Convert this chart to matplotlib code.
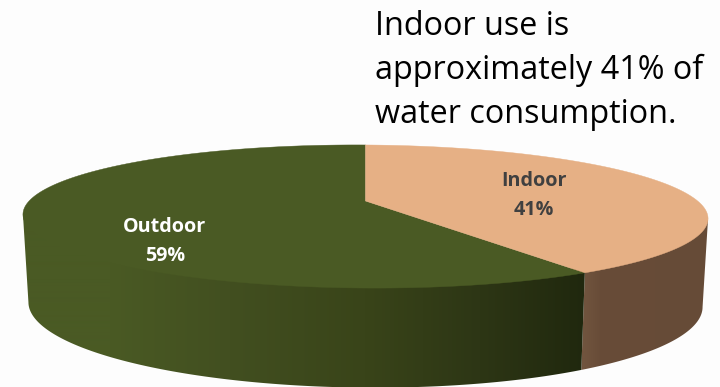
import numpy as np
import matplotlib
matplotlib.use('Agg')
import matplotlib.pyplot as plt
from matplotlib.colors import to_rgb
from matplotlib.patches import Polygon

# chart data
labels = ['Indoor', 'Outdoor']
shares = [41, 59]
title_lines = ['Indoor use is', 'approximately 41% of', 'water consumption.']

top_colors = ['#e6b085', '#4a5a24']

# projective map of the unit pie circle, fitted to the picture (pixels)
cx, cy = 365.5, 201.0
r = 0.2168
s = 334.4
p = 24.6
tilt = 0.006


def top_xy(theta):
    # theta in degrees, clockwise from 12 o'clock
    u = np.sin(np.radians(theta))
    v = np.cos(np.radians(theta))
    w = 1 + r * v
    x = s * u / w
    y = (cy - p * v) / w
    return cx + x, y + x * tilt


def bottom_xy(theta):
    x, y = top_xy(theta)
    return cx + (x - cx) * 0.984, 304 + (y - 216) * 83 / 71.5


def gradient(stops_x, stops_c):
    # one row image, colour runs with x
    xs = np.arange(0, 720)
    rgb = np.array([to_rgb(c) for c in stops_c])
    return np.dstack([np.interp(xs, stops_x, rgb[:, i]) for i in range(3)])


fig = plt.figure(figsize=(7.2, 3.87), dpi=100, facecolor='#fdfdfd')
ax = fig.add_axes([0, 0, 1, 1])

# wedge angles from the shares
edges = np.cumsum([0] + shares) / sum(shares) * 360
sil = np.degrees(np.arccos(-r))  # where the rim turns out of view

# side walls, shading runs across
side_ranges = [(sil, edges[1]), (edges[1], 360 - sil)]
side_stops = [
    ([585, 600, 710], ['#70543e', '#684c38', '#664b37']),
    ([20, 110, 230, 365, 480, 585], ['#4a5a24', '#4a5a24', '#424f20', '#394419', '#2d3615', '#20280e']),
]
for (a, b), (sx, sc) in zip(side_ranges, side_stops):
    th = np.linspace(a, b, 200)
    xt, yt = top_xy(th)
    xb, yb = bottom_xy(th)
    # run the wall a little under the top face so no seam shows
    xi = cx + (xt - cx) * 0.985
    yi = 216 + (yt - 216) * 0.9
    px = np.r_[xt[0], xi, xt[-1], xb[::-1]]
    py = np.r_[yt[0], yi, yt[-1], yb[::-1]]
    poly = Polygon(np.c_[px, py], closed=True, transform=ax.transData, fc='none', ec='none')
    ax.add_patch(poly)
    im = ax.imshow(gradient(sx, sc), extent=(0, 720, 387, 0), aspect='auto', interpolation='bilinear')
    im.set_clip_path(poly)

# top face
for i in [1, 0]:
    th = np.linspace(edges[i], edges[i + 1], 300)
    xs, ys = top_xy(th)
    ax.fill(np.r_[cx, xs], np.r_[cy, ys], color=top_colors[i], lw=0.3)

ax.set_xlim(0, 720)
ax.set_ylim(387, 0)
ax.axis('off')

# slice labels, one text per line to hold the spacing
label_xy = [(534, 181), (165, 227)]
label_colors = ['#404040', '#ffffff']
for i in range(2):
    x, y = label_xy[i]
    ax.text(x, y, labels[i], color=label_colors[i], fontsize=14.2, fontweight='bold',
            family='Open Sans', ha='center', va='center')
    ax.text(x, y + 29, f'{shares[i]}%', color=label_colors[i], fontsize=14.2, fontweight='bold',
            family='Open Sans', ha='center', va='center')

# text beside the chart
for line, base in zip(title_lines, [35, 79, 123]):
    ax.text(375, base, line, color='#000000', fontsize=23.3, family='Open Sans', ha='left', va='baseline')

fig.savefig('out.png', dpi=100, facecolor=fig.get_facecolor())
